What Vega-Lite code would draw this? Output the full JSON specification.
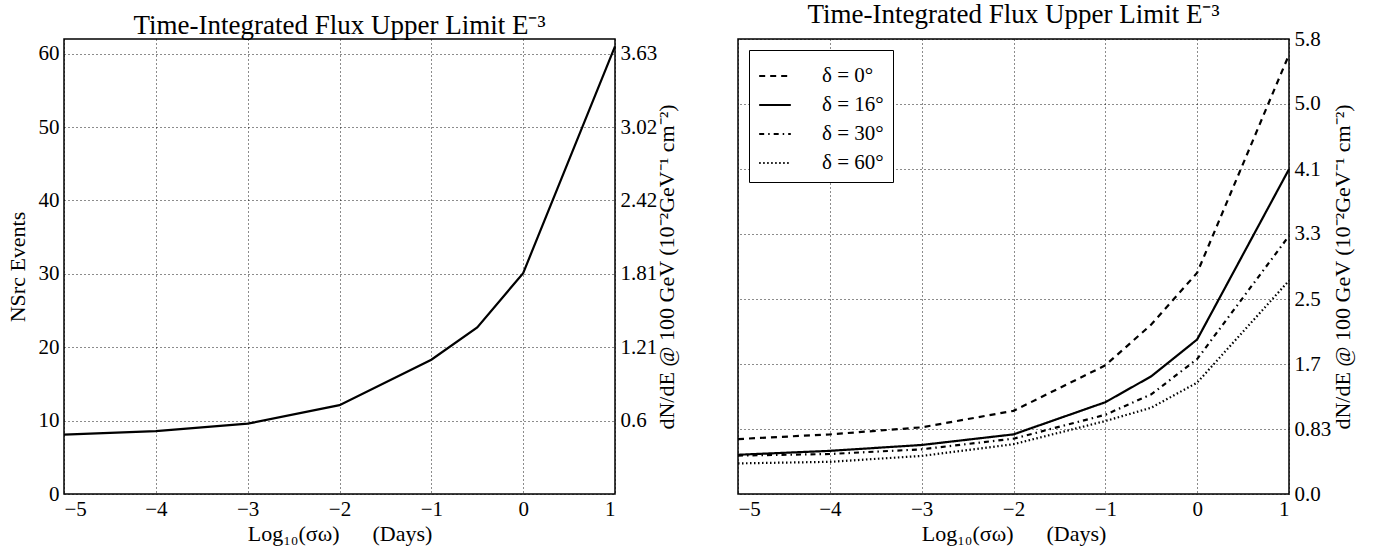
{
  "$schema": "https://vega.github.io/schema/vega-lite/v6.json",
  "background": "white",
  "padding": {"left": 5, "top": 0, "right": 5, "bottom": 5},
  "resolve": {"legend": {"strokeDash": "independent"}},
  "config": {
    "font": "Liberation Serif",
    "view": {"stroke": "black", "strokeWidth": 1.5},
    "axis": {
      "labelFont": "Liberation Serif",
      "labelFontSize": 21,
      "labelColor": "black",
      "titleFont": "Liberation Serif",
      "titleFontSize": 22,
      "titleFontWeight": "normal",
      "titleColor": "black",
      "domain": false,
      "ticks": false,
      "gridColor": "black",
      "gridDash": [1, 3],
      "gridWidth": 1,
      "gridOpacity": 0.9
    },
    "title": {"font": "Liberation Serif", "fontSize": 27, "fontWeight": "normal", "color": "black", "offset": -1},
    "legend": {
      "labelFont": "Liberation Serif",
      "labelFontSize": 21,
      "labelColor": "black"
    }
  },
  "hconcat": [
    {
      "width": 551,
      "height": 455,
      "title": {"text": "Time-Integrated Flux Upper Limit E⁻³"},
      "data": {"values": [
        {"x": -5, "n": 8.08},
        {"x": -4, "n": 8.58},
        {"x": -3, "n": 9.58},
        {"x": -2, "n": 12.1},
        {"x": -1, "n": 18.3},
        {"x": -0.5, "n": 22.7},
        {"x": 0, "n": 30.1},
        {"x": 1, "n": 61.0}
      ]},
      "resolve": {"scale": {"y": "independent"}, "axis": {"y": "independent"}},
      "layer": [
        {
          "mark": {"type": "line", "color": "black", "strokeWidth": 2.2},
          "encoding": {
            "x": {"field": "x", "type": "quantitative", "scale": {"domain": [-5, 1], "nice": false},
              "axis": {"values": [-5, -4, -3, -2, -1, 0, 1], "grid": true, "labelPadding": 4, "titlePadding": 4,
                "labelExpr": "datum.value < 0 ? '−' + abs(datum.value) : '' + datum.value",
                "title": "Log₁₀(σω)\u00a0\u00a0\u00a0\u00a0\u00a0\u00a0(Days)"}},
            "y": {"field": "n", "type": "quantitative", "scale": {"domain": [0, 62], "nice": false},
              "axis": {"values": [0, 10, 20, 30, 40, 50, 60], "grid": true, "labelPadding": 5, "titlePadding": 9, "title": "NSrc Events"}}
          }
        },
        {
          "mark": {"type": "line", "opacity": 0},
          "encoding": {
            "x": {"field": "x", "type": "quantitative", "scale": {"domain": [-5, 1], "nice": false}},
            "y": {"field": "n", "type": "quantitative", "scale": {"domain": [0, 62], "nice": false},
              "axis": {"orient": "right", "values": [10, 20, 30, 40, 50, 60], "grid": false, "labelPadding": 5, "titlePadding": 0,
                "titleAngle": 270, "titleBaseline": "top",
                "labelExpr": "['0', '0.6', '1.21', '1.81', '2.42', '3.02', '3.63'][round(datum.value / 10)]",
                "title": "dN/dE @ 100 GeV (10⁻²GeV⁻¹ cm⁻²)"}}
          }
        }
      ]
    },
    {
      "width": 551,
      "height": 455,
      "title": {"text": "Time-Integrated Flux Upper Limit E⁻³"},
      "data": {"values": [
        {"x": -5, "f": 0.70, "dec": "δ = 0°"},
        {"x": -4, "f": 0.76, "dec": "δ = 0°"},
        {"x": -3, "f": 0.85, "dec": "δ = 0°"},
        {"x": -2, "f": 1.06, "dec": "δ = 0°"},
        {"x": -1, "f": 1.64, "dec": "δ = 0°"},
        {"x": -0.5, "f": 2.16, "dec": "δ = 0°"},
        {"x": 0, "f": 2.82, "dec": "δ = 0°"},
        {"x": 1, "f": 5.6, "dec": "δ = 0°"},
        {"x": -5, "f": 0.50, "dec": "δ = 16°"},
        {"x": -4, "f": 0.55, "dec": "δ = 16°"},
        {"x": -3, "f": 0.625, "dec": "δ = 16°"},
        {"x": -2, "f": 0.76, "dec": "δ = 16°"},
        {"x": -1, "f": 1.17, "dec": "δ = 16°"},
        {"x": -0.5, "f": 1.50, "dec": "δ = 16°"},
        {"x": 0, "f": 1.97, "dec": "δ = 16°"},
        {"x": 1, "f": 4.14, "dec": "δ = 16°"},
        {"x": -5, "f": 0.49, "dec": "δ = 30°"},
        {"x": -4, "f": 0.51, "dec": "δ = 30°"},
        {"x": -3, "f": 0.57, "dec": "δ = 30°"},
        {"x": -2, "f": 0.705, "dec": "δ = 30°"},
        {"x": -1, "f": 1.01, "dec": "δ = 30°"},
        {"x": -0.5, "f": 1.27, "dec": "δ = 30°"},
        {"x": 0, "f": 1.72, "dec": "δ = 30°"},
        {"x": 1, "f": 3.29, "dec": "δ = 30°"},
        {"x": -5, "f": 0.39, "dec": "δ = 60°"},
        {"x": -4, "f": 0.41, "dec": "δ = 60°"},
        {"x": -3, "f": 0.485, "dec": "δ = 60°"},
        {"x": -2, "f": 0.635, "dec": "δ = 60°"},
        {"x": -1, "f": 0.93, "dec": "δ = 60°"},
        {"x": -0.5, "f": 1.10, "dec": "δ = 60°"},
        {"x": 0, "f": 1.42, "dec": "δ = 60°"},
        {"x": 1, "f": 2.72, "dec": "δ = 60°"}
      ]},
      "mark": {"type": "line", "color": "black", "strokeWidth": 2.2},
      "encoding": {
        "x": {"field": "x", "type": "quantitative", "scale": {"domain": [-5, 1], "nice": false},
          "axis": {"values": [-5, -4, -3, -2, -1, 0, 1], "grid": true, "labelPadding": 4, "titlePadding": 4,
            "labelExpr": "datum.value < 0 ? '−' + abs(datum.value) : '' + datum.value",
            "title": "Log₁₀(σω)\u00a0\u00a0\u00a0\u00a0\u00a0\u00a0(Days)"}},
        "y": {"field": "f", "type": "quantitative", "scale": {"domain": [0, 5.8], "nice": false},
          "axis": {"orient": "right", "grid": true, "labelPadding": 5, "titlePadding": 2, "titleAngle": 270, "titleBaseline": "top",
            "values": [0, 0.828571, 1.657143, 2.485714, 3.314286, 4.142857, 4.971429, 5.8],
            "labelExpr": "['0.0', '0.83', '1.7', '2.5', '3.3', '4.1', '5.0', '5.8'][round(datum.value / 0.828571)]",
            "title": "dN/dE @ 100 GeV (10⁻²GeV⁻¹ cm⁻²)"}},
        "strokeDash": {"field": "dec", "type": "nominal",
          "scale": {"domain": ["δ = 0°", "δ = 16°", "δ = 30°", "δ = 60°"],
            "range": [[6, 5], [1, 0], [5, 4, 1.5, 4], [1.5, 2.5]]},
          "legend": {"title": null, "orient": "top-left", "offset": 11, "strokeColor": "black", "fillColor": "white",
            "padding": 9, "symbolType": "stroke", "symbolSize": 1000, "symbolStrokeWidth": 2.2,
            "symbolStrokeColor": "black", "labelOffset": 30, "rowPadding": 2, "cornerRadius": 0}}
      }
    }
  ],
  "spacing": 53
}
